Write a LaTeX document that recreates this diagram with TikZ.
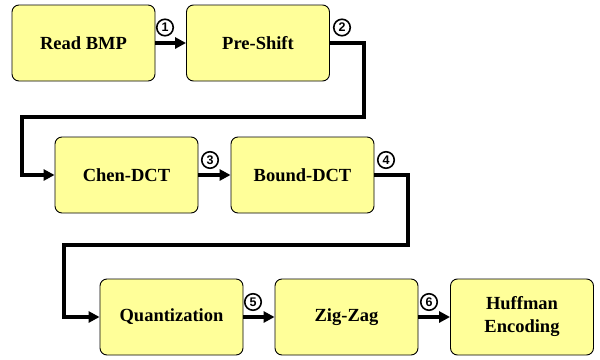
\documentclass[tikz,border=0pt]{standalone}
\usepackage{fontspec}
\setmainfont{Liberation Serif}
\setsansfont{Liberation Sans}
\usetikzlibrary{arrows.meta}
\definecolor{boxfill}{HTML}{FFFF99}
\tikzset{
  stage/.style={draw=black, line width=0.9pt, fill=boxfill, rounded corners=7pt,
    minimum width=143pt, minimum height=76pt, inner sep=0pt,
    font=\fontsize{18.5}{23}\selectfont\bfseries, align=center},
  flow/.style={line width=3.5pt, -{Triangle[length=11pt,width=11pt]}},
  tag/.style={circle, draw=black, line width=1.6pt, minimum size=16.5pt, inner sep=0pt,
    font=\sffamily\bfseries\fontsize{12.5}{12.5}\selectfont}
}
\begin{document}
\begin{tikzpicture}[x=1pt, y=-1pt]
  \useasboundingbox (0,0) rectangle (600,359);

  % processing stages
  \node[stage] (read)  at (83.5,43)  {Read BMP};
  \node[stage] (shift) at (258,43)   {Pre-Shift};
  \node[stage] (chen)  at (126.5,175) {Chen-DCT};
  \node[stage] (bound) at (302.5,175) {Bound-DCT};
  \node[stage] (quant) at (171.5,317) {Quantization};
  \node[stage] (zig)   at (346.5,317) {Zig-Zag};
  \node[stage] (huff)  at (522,317)  {Huffman\\Encoding};

  % bends of the wrap-around connectors
  \coordinate (r1) at (364,43);
  \coordinate (r2) at (364,117);
  \coordinate (r3) at (22,117);
  \coordinate (r4) at (22,175);
  \coordinate (s1) at (408,175);
  \coordinate (s2) at (408,245);
  \coordinate (s3) at (64,245);
  \coordinate (s4) at (64,317);

  % connectors
  \draw[flow] (read.east) -- (shift.west);
  \draw[flow, line join=miter] (shift.east) -- (r1) -- (r2) -- (r3) -- (r4) -- (chen.west);
  \draw[flow] (chen.east) -- (bound.west);
  \draw[flow, line join=miter] (bound.east) -- (s1) -- (s2) -- (s3) -- (s4) -- (quant.west);
  \draw[flow] (quant.east) -- (zig.west);
  \draw[flow] (zig.east) -- (huff.west);

  % step numbers
  \node[tag] (t1) at (165,27.5) {1};
  \node[tag] (t2) at (342,27.5) {2};
  \node[tag] (t3) at (210,160)  {3};
  \node[tag] (t4) at (386,160)  {4};
  \node[tag] (t5) at (253,302)  {5};
  \node[tag] (t6) at (429,302)  {6};
\end{tikzpicture}
\end{document}
